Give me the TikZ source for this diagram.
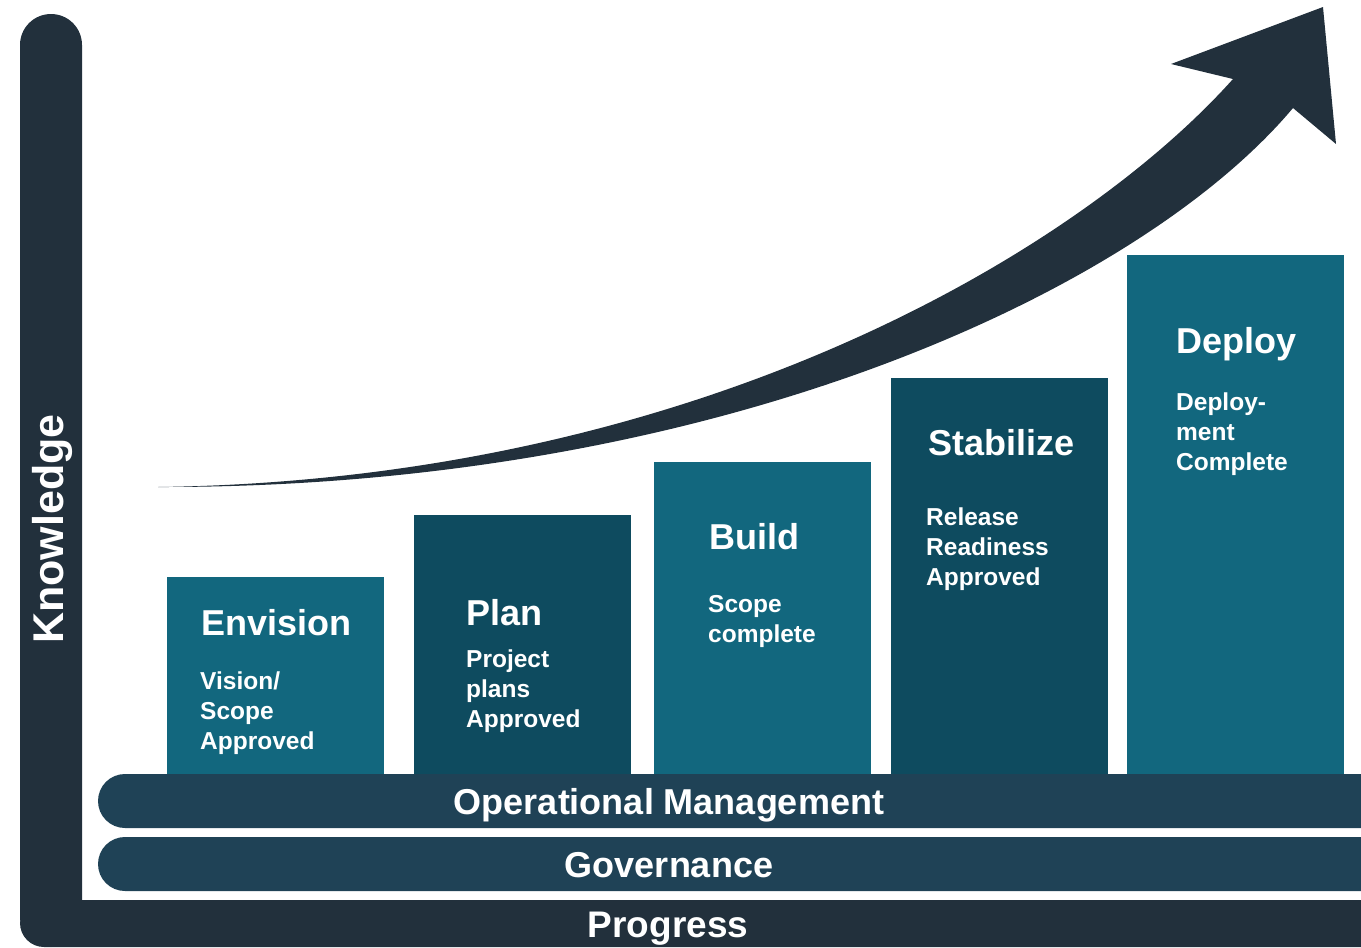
\documentclass[tikz,border=0pt]{standalone}
\usepackage{fontspec}
\setmainfont{Liberation Sans}
\definecolor{axisc}{HTML}{22303C}
\definecolor{bandc}{HTML}{1F4256}
\definecolor{tealc}{HTML}{12677E}
\definecolor{darkc}{HTML}{0E4B5F}
\tikzset{
  phase/.style = {anchor=north west, minimum width=217pt, inner sep=0pt, draw=none},
  phase_t/.style = {phase, fill=tealc},
  phase_d/.style = {phase, fill=darkc},
  ptitle/.style = {anchor=base west, inner sep=0pt, white, font=\bfseries\fontsize{36}{40}\selectfont},
  psub/.style = {anchor=base west, inner sep=0pt, white, align=left, font=\bfseries\fontsize{24.5}{30}\selectfont},
  band/.style = {fill=bandc, rounded corners=27pt},
  bandtext/.style = {anchor=base, inner sep=0pt, white, font=\bfseries\fontsize{36}{40}\selectfont}
}

\begin{document}
\begin{tikzpicture}[x=1pt,y=-1pt]
	\useasboundingbox (0,0) rectangle (1361,948);
	\clip (0,0) rectangle (1361,948);
	% axes
	\fill[axisc, rounded corners=31pt] (20,14) rectangle (82,947);
	\fill[axisc, rounded corners=24pt] (20,900) rectangle (1390,947);
	\node[bandtext, font=\bfseries\fontsize{43}{48}\selectfont, rotate=90] (knowledge) at (63,529) {Knowledge};
	\node[bandtext, font=\bfseries\fontsize{37}{42}\selectfont] (progress) at (668,937) {Progress};
	% growth arrow
	\fill[axisc] (158,487) .. controls (700,480) and (1080,250) .. (1233,79)
		-- (1171,64) -- (1323,7) -- (1336,144) -- (1293,108)
		.. controls (1140,290) and (720,488) .. (158,487) -- cycle;
	% phases (sub texts sit on the baseline of their last line)
	\node[phase_t, minimum height=200pt] (envision) at (167,577) {};
	\node[phase_d, minimum height=262pt] (plan) at (414,515) {};
	\node[phase_t, minimum height=315pt] (build) at (654,462) {};
	\node[phase_d, minimum height=399pt] (stabilize) at (891,378) {};
	\node[phase_t, minimum height=522pt] (deploy) at (1127,255) {};
	\node[ptitle] (envision_t) at (201,635) {Envision};
	\node[psub] (envision_s) at (200,749) {Vision/\\Scope\\Approved};
	\node[ptitle] (plan_t) at (466,625) {Plan};
	\node[psub] (plan_s) at (466,727) {Project\\plans\\Approved};
	\node[ptitle] (build_t) at (709,549) {Build};
	\node[psub] (build_s) at (708,642) {Scope\\complete};
	\node[ptitle] (stabilize_t) at (928,455) {Stabilize};
	\node[psub] (stabilize_s) at (926,585) {Release\\Readiness\\Approved};
	\node[ptitle] (deploy_t) at (1176,353) {Deploy};
	\node[psub] (deploy_s) at (1176,470) {Deploy-\\ment\\Complete};
	% bands
	\fill[band] (98,774) rectangle (1390,828);
	\node[bandtext] (opman) at (669,814) {Operational Management};
	\fill[band] (98,837) rectangle (1390,891);
	\node[bandtext] (gov) at (669,877) {Governance};
\end{tikzpicture}
\end{document}
